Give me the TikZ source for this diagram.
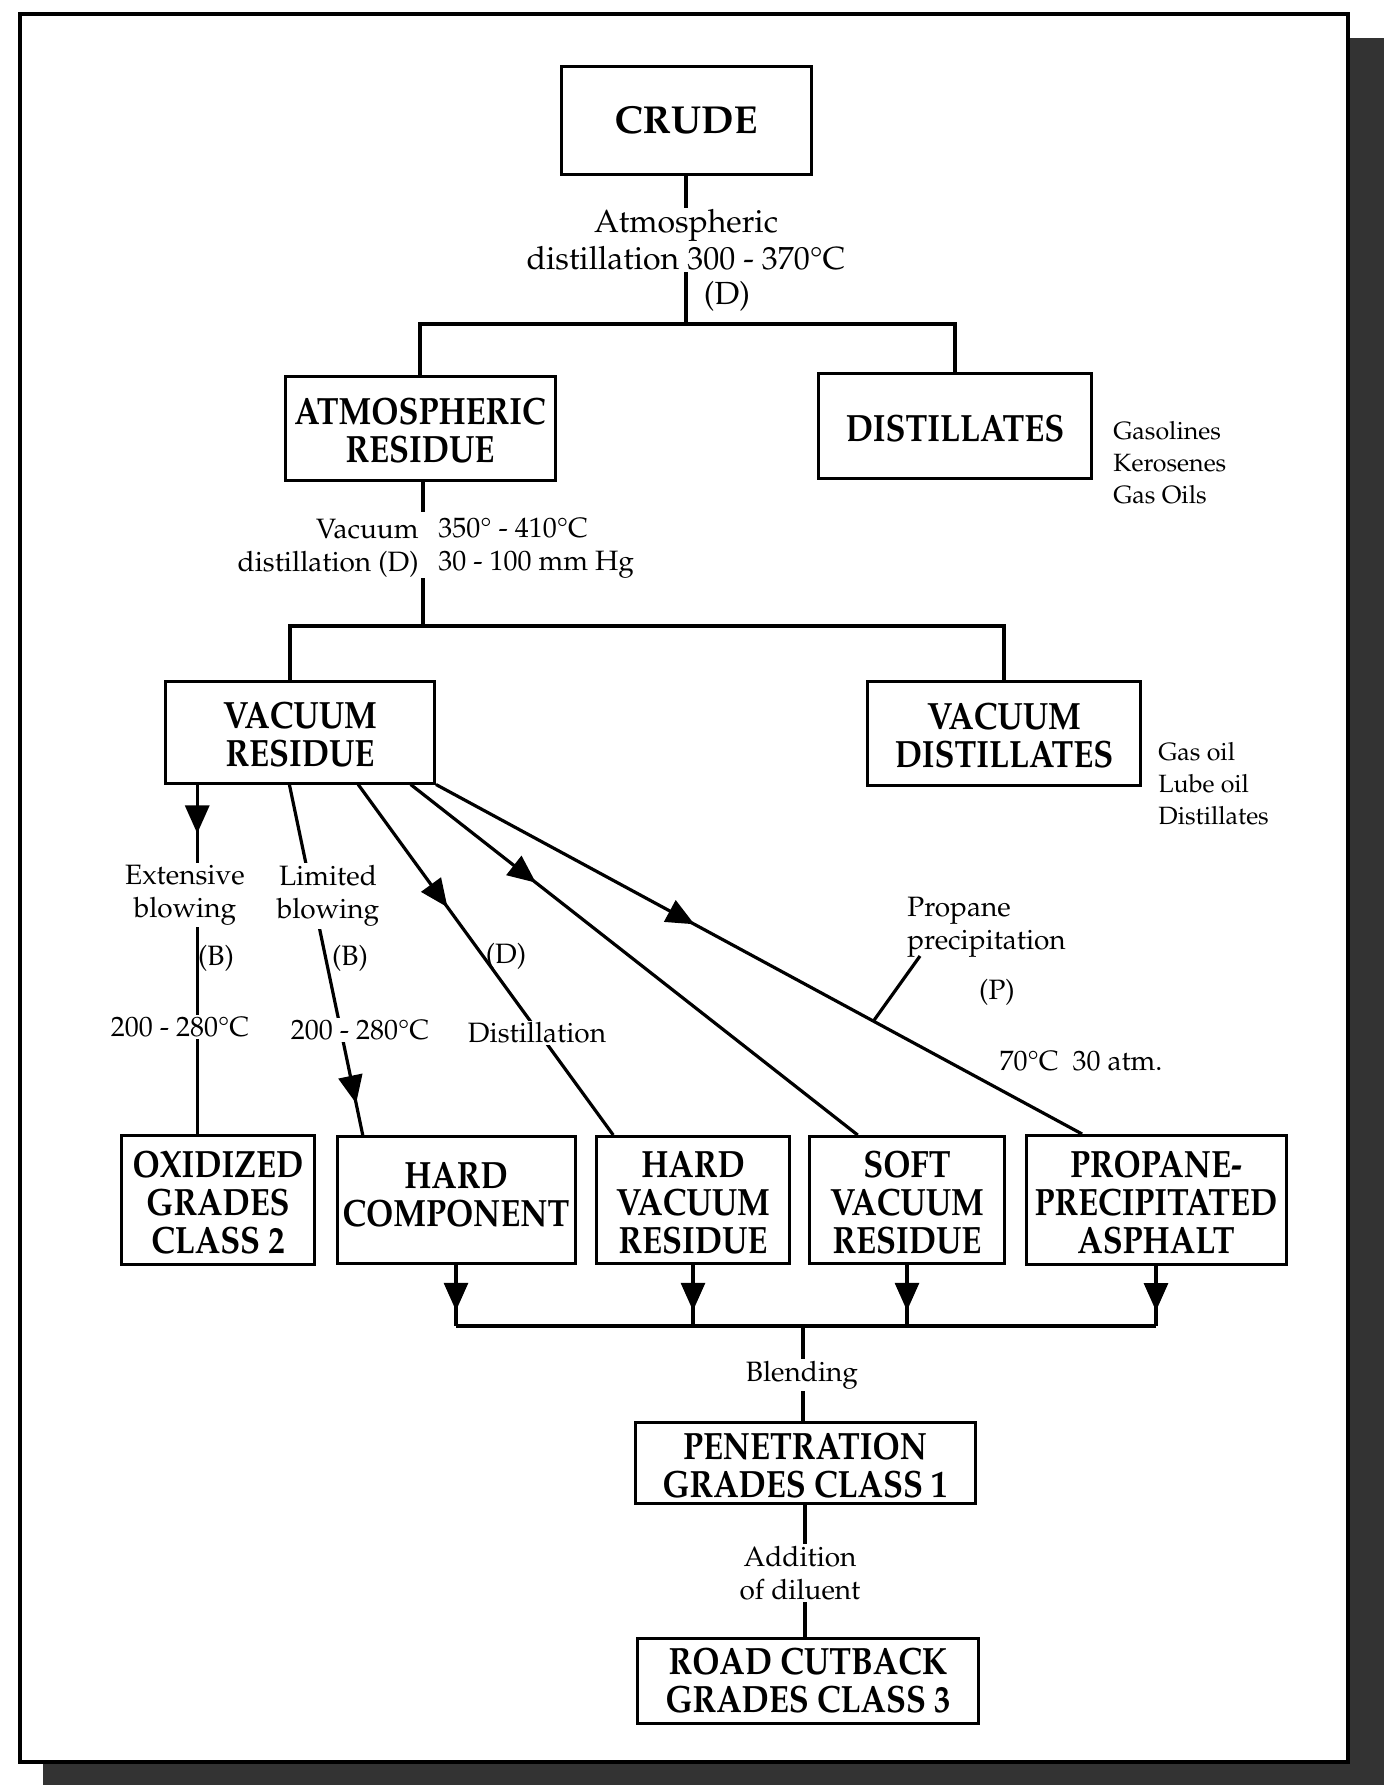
\documentclass[tikz,border=0pt]{standalone}
\usepackage[T1]{fontenc}
\usepackage{mathpazo}
\usepackage{textcomp}
\usepackage{graphicx}
\usetikzlibrary{arrows.meta,decorations.markings,calc}

\newcommand{\boxfont}{\fontsize{19}{19}\selectfont\bfseries}
\newcommand{\labelfont}{\fontsize{14}{16.5}\selectfont}
\newcommand{\toplabelfont}{\fontsize{16}{18.5}\selectfont}
\newcommand{\sidefont}{\fontsize{12.5}{16}\selectfont}
\newcommand{\narrowtext}[2][-4pt]{\raisebox{#1}[\height][\depth]{\scalebox{0.86}[1]{\begin{tabular}{@{}c@{}}#2\end{tabular}}}}
\colorlet{page shadow}{black!80}
\tikzset{procbox/.style={draw, line width=1.5pt, inner sep=0pt, font=\boxfont},
    flow/.style={line width=1.6pt},
    lbl/.style={font=\labelfont, align=center, inner sep=1pt},
    blank/.style={fill=white},
    midarrow/.style={postaction={decorate}, decoration={markings,
        mark=at position #1 with {\arrow{Triangle[length=14pt,width=12pt]}}}}}

\begin{document}
\begin{tikzpicture}[x=0.5pt,y=-0.5pt]
    \useasboundingbox (0,0) rectangle (1384,1785);
    % page and its shadow
    \fill[page shadow] (1350,38) -- (1384,38) -- (1384,1785) -- (43,1785) -- (43,1762) -- (1350,1762) -- cycle;
    \draw[line width=2pt, fill=white] (20,14) rectangle (1348,1762);

    % boxes
    \node[procbox, minimum width=125pt, minimum height=54pt, font=\fontsize{19.5}{20}\selectfont\bfseries] (crude) at (686,120) {CRUDE};
    \node[procbox, minimum width=135pt, minimum height=52pt] (atm) at (420,428) {\narrowtext{ATMOSPHERIC\\RESIDUE}};
    \node[procbox, minimum width=136.5pt, minimum height=52.5pt] (dist) at (955,426) {\narrowtext{DISTILLATES}};
    \node[procbox, minimum width=134.5pt, minimum height=51pt] (vr) at (300,732) {\narrowtext{VACUUM\\RESIDUE}};
    \node[procbox, minimum width=136.5pt, minimum height=52pt] (vd) at (1004,733) {\narrowtext{VACUUM\\DISTILLATES}};
    \node[procbox, minimum width=96.5pt, minimum height=64.5pt] (oxi) at (218,1200) {\narrowtext{OXIDIZED\\GRADES\\CLASS 2}};
    \node[procbox, minimum width=119pt, minimum height=63.5pt] (hc) at (456,1200) {\narrowtext[0pt]{HARD\\COMPONENT}};
    \node[procbox, minimum width=96.5pt, minimum height=63.5pt] (hvr) at (693,1200) {\narrowtext{HARD\\VACUUM\\RESIDUE}};
    \node[procbox, minimum width=97.5pt, minimum height=63.5pt] (svr) at (907,1200) {\narrowtext{SOFT\\VACUUM\\RESIDUE}};
    \node[procbox, minimum width=130pt, minimum height=64.5pt] (ppa) at (1156,1200) {\narrowtext{PROPANE-\\PRECIPITATED\\ASPHALT}};
    \node[procbox, minimum width=170pt, minimum height=40.5pt] (pen) at (805,1463) {\narrowtext{PENETRATION\\GRADES CLASS 1}};
    \node[procbox, minimum width=170.5pt, minimum height=42.5pt] (road) at (808,1681) {\narrowtext[-2.5pt]{ROAD CUTBACK\\GRADES CLASS 3}};

    % products
    \node[font=\sidefont, align=left, anchor=north west, inner sep=0pt] (distuse) at (1113,421) {Gasolines\\Kerosenes\\Gas Oils};
    \node[font=\sidefont, align=left, anchor=north west, inner sep=0pt] (vduse) at (1158,742) {Gas oil\\Lube oil\\Distillates};

    % atmospheric distillation
    \coordinate (split1) at (686,324);
    \draw[flow] (crude.south) -- (split1);
    \draw[flow] (atm.north) -- (atm.north |- split1) -- (dist.north |- split1) -- (dist.north);
    \node[lbl, blank, font=\toplabelfont] (atmlbl) at (686,240) {Atmospheric\\distillation 300 - 370\textdegree C};
    \node[lbl, font=\toplabelfont] (atmd) at (727,296) {(D)};

    % vacuum distillation
    \coordinate (vactop) at (423,512);
    \coordinate (vacbot) at (423,578);
    \coordinate (vacsplit) at (423,626);
    \coordinate (vacleft) at (290,626);
    \draw[flow] (atm.south -| vactop) -- (vactop);
    \draw[flow] (vacbot) -- (vacsplit);
    \draw[flow] (vr.north -| vacleft) -- (vacleft) -- (vacleft -| vd.north) -- (vd.north);
    \node[lbl, anchor=east, align=right] (vaclbl) at (421,548) {Vacuum\\distillation (D)};
    \node[lbl, anchor=west, align=left] (vaccond) at (436,548) {350\textdegree{} - 410\textdegree C\\30 - 100 mm Hg};

    % routes from the vacuum residue
    \coordinate (oxitop) at ($(oxi.north west)!0.394!(oxi.north east)$);
    \draw[flow, midarrow=0.14] (oxitop |- vr.south) -- (oxitop);
    \node[lbl, blank] (extlbl) at (185,895) {Extensive\\blowing};
    \node[lbl] (extb) at (216,958) {(B)};
    \node[lbl, blank] (exttemp) at (180,1027) {200 - 280\textdegree C};

    \draw[flow, midarrow=0.91] ($(vr.south west)!0.461!(vr.south east)$) -- ($(hc.north west)!0.113!(hc.north east)$);
    \node[lbl, blank] (limlbl) at (328,896) {Limited\\blowing};
    \node[lbl] (limb) at (350,958) {(B)};
    \node[lbl, blank] (limtemp) at (360,1030) {200 - 280\textdegree C};

    \draw[flow, midarrow=0.35] ($(vr.south west)!0.714!(vr.south east)$) -- ($(hvr.north west)!0.093!(hvr.north east)$);
    \node[lbl] (distd) at (506,956) {(D)};
    \node[lbl, blank] (distlbl) at (537,1033) {Distillation};

    \draw[flow, midarrow=0.28] ($(vr.south west)!0.907!(vr.south east)$) -- ($(svr.north west)!0.251!(svr.north east)$);

    \draw[flow, midarrow=0.40] (vr.south east) -- ($(ppa.north west)!0.219!(ppa.north east)$) coordinate[pos=0.677] (tickfoot);
    \node[lbl, anchor=west, align=left] (proplbl) at (905,927) {Propane\\precipitation};
    \coordinate (tickhead) at (920,956);
    \draw[flow] (tickfoot) -- (tickhead);
    \node[lbl] (propp) at (997,992) {(P)};
    \node[lbl] (propcond) at (1081,1061) {70\textdegree C\ \ 30 atm.};

    % blending and dilution
    \coordinate (blend) at (803,1326);
    \foreach \src in {hc,hvr,svr,ppa}
        \draw[flow, midarrow=0.75] (\src.south) -- (\src.south |- blend);
    \draw[flow] (hc.south |- blend) -- (ppa.south |- blend);
    \draw[flow] (blend) -- (blend |- pen.north);
    \node[lbl, blank] (blendlbl) at (802,1375) {Blending};
    \draw[flow] (pen.south) -- (pen.south |- road.north);
    \node[lbl, blank] (dillbl) at (800,1573) {Addition\\of diluent};
\end{tikzpicture}
\end{document}
